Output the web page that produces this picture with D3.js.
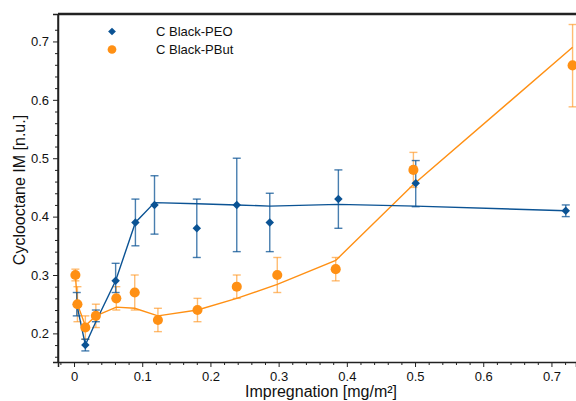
<!DOCTYPE html>
<html>
<head>
<meta charset="utf-8">
<script src="https://cdn.jsdelivr.net/npm/d3@7"></script>
<style>
  html, body { margin: 0; padding: 0; background: #fff; }
  svg { display: block; font-family: "Liberation Sans", Arial, sans-serif; }
</style>
</head>
<body>
<svg id="chart" width="576" height="401"></svg>
<script>
// --- Data ---
const peoX   = [0.004, 0.0166, 0.032, 0.061, 0.090, 0.118, 0.180, 0.2386, 0.287, 0.3876, 0.501, 0.721];
const peoY   = [0.25, 0.18, 0.23, 0.29, 0.39, 0.42, 0.38, 0.42, 0.39, 0.43, 0.457, 0.41];
const peoLo  = [0.23, 0.17, 0.22, 0.27, 0.35, 0.37, 0.33, 0.34, 0.34, 0.38, 0.417, 0.40];
const peoHi  = [0.27, 0.19, 0.24, 0.32, 0.43, 0.47, 0.43, 0.50, 0.44, 0.48, 0.496, 0.42];
const peoFit = [0.25, 0.18, 0.22, 0.29, 0.39, 0.424, 0.422, 0.42, 0.418, 0.421, 0.418, 0.41];

const butX   = [0.002, 0.005, 0.0166, 0.032, 0.062, 0.089, 0.123, 0.181, 0.2386, 0.298, 0.3837, 0.4976, 0.731];
const butY   = [0.30, 0.25, 0.21, 0.23, 0.26, 0.27, 0.223, 0.24, 0.28, 0.30, 0.31, 0.48, 0.659];
const butLo  = [0.29, 0.22, 0.19, 0.21, 0.24, 0.24, 0.203, 0.22, 0.26, 0.27, 0.29, 0.45, 0.588];
const butHi  = [0.31, 0.28, 0.23, 0.25, 0.28, 0.30, 0.243, 0.26, 0.30, 0.33, 0.33, 0.51, 0.729];
const butFit = [0.30, 0.25, 0.213, 0.23, 0.245, 0.243, 0.23, 0.24, 0.26, 0.284, 0.325, 0.455, 0.69];

const xTicks = [0, 0.1, 0.2, 0.3, 0.4, 0.5, 0.6, 0.7];
const yTicks = [0.2, 0.3, 0.4, 0.5, 0.6, 0.7];
const seriesNames = ["C Black-PEO", "C Black-PBut"];

const BLUE = "#0b5394";
const ORANGE = "#ff9014";

// --- Layout ---
const svg = d3.select("#chart");
const M = { left: 58, top: 14, right: 576, bottom: 362 };

const x = d3.scaleLinear().domain([-0.0235, 0.736]).range([M.left, M.right]);
const y = d3.scaleLinear().domain([0.151, 0.747]).range([M.bottom, M.top]);

// --- Axes ---
const fmt = d3.format(".1f");
svg.append("g")
    .attr("transform", `translate(0,${M.bottom})`)
    .call(d3.axisBottom(x).tickValues(xTicks).tickSize(5).tickPadding(5)
        .tickFormat(d => d === 0 ? "0" : fmt(d)));
const xMinor = d3.range(-0.02, 0.74, 0.02).filter(v => Math.abs(v * 10 - Math.round(v * 10)) > 1e-6);
svg.append("g")
    .attr("transform", `translate(0,${M.bottom})`)
    .call(d3.axisBottom(x).tickValues(xMinor).tickSize(3).tickFormat(""))
    .call(g => g.select(".domain").remove());

svg.append("g")
    .attr("transform", `translate(${M.left},0)`)
    .call(d3.axisLeft(y).tickValues(yTicks).tickSize(5).tickPadding(4).tickFormat(fmt));
const yMinor = d3.range(0.16, 0.74, 0.02).filter(v => Math.abs(v * 10 - Math.round(v * 10)) > 1e-6);
svg.append("g")
    .attr("transform", `translate(${M.left},0)`)
    .call(d3.axisLeft(y).tickValues(yMinor).tickSize(3).tickFormat(""))
    .call(g => g.select(".domain").remove());

svg.selectAll(".domain").attr("stroke", "#222").attr("stroke-width", 1.5);
svg.selectAll(".tick line").attr("stroke", "#222");
svg.selectAll(".tick text").attr("font-size", 13).attr("fill", "#111");

// top and left frame
svg.append("line")
    .attr("x1", M.left).attr("x2", M.right)
    .attr("y1", M.top).attr("y2", M.top)
    .attr("stroke", "#222").attr("stroke-width", 2.5);
svg.append("line")
    .attr("x1", M.left).attr("x2", M.left)
    .attr("y1", M.top).attr("y2", M.bottom)
    .attr("stroke", "#222").attr("stroke-width", 1.5);

// titles
svg.append("text")
    .attr("x", 321).attr("y", 397)
    .attr("text-anchor", "middle").attr("font-size", 16).attr("fill", "#111")
    .text("Impregnation [mg/m²]");
svg.append("text")
    .attr("transform", "translate(25,190) rotate(-90)")
    .attr("text-anchor", "middle").attr("font-size", 16).attr("fill", "#111")
    .text("Cyclooctane IM [n.u.]");

// --- Series ---
const lines = svg.append("g");
const marks = svg.append("g");

function toPoints(xs, ys, lo, hi, fit) {
    return xs.map((v, i) => ({ x: v, y: ys[i], lo: lo[i], hi: hi[i], f: fit[i] }));
}

function drawBarsAndLine(pts, color, barOpacity) {
    const eb = lines.append("g").attr("stroke", color).attr("stroke-opacity", barOpacity).attr("stroke-width", 1.4);
    eb.selectAll(".v").data(pts).join("line")
        .attr("x1", d => x(d.x)).attr("x2", d => x(d.x))
        .attr("y1", d => y(d.lo)).attr("y2", d => y(d.hi));
    eb.selectAll(".c1").data(pts).join("line")
        .attr("x1", d => x(d.x) - 4).attr("x2", d => x(d.x) + 4)
        .attr("y1", d => y(d.hi)).attr("y2", d => y(d.hi));
    eb.selectAll(".c2").data(pts).join("line")
        .attr("x1", d => x(d.x) - 4).attr("x2", d => x(d.x) + 4)
        .attr("y1", d => y(d.lo)).attr("y2", d => y(d.lo));

    lines.append("path")
        .datum(pts)
        .attr("fill", "none").attr("stroke", color).attr("stroke-width", 1.4)
        .attr("d", d3.line().x(d => x(d.x)).y(d => y(d.f)));
}

function drawMarkers(pts, color, shape) {
    const sym = d3.symbol().type(shape === "diamond" ? d3.symbolSquare : d3.symbolCircle)
        .size(shape === "diamond" ? 36 : 80);
    marks.append("g").selectAll("path").data(pts).join("path")
        .attr("transform", d => `translate(${x(d.x)},${y(d.y)})` + (shape === "diamond" ? " rotate(45)" : ""))
        .attr("d", sym)
        .attr("fill", color);
}

const peo = toPoints(peoX, peoY, peoLo, peoHi, peoFit);
const but = toPoints(butX, butY, butLo, butHi, butFit);

drawBarsAndLine(but, ORANGE, 0.6);
drawBarsAndLine(peo, BLUE, 0.75);
drawMarkers(peo, BLUE, "diamond");
drawMarkers(but, ORANGE, "circle");

// --- Legend ---
const legend = svg.append("g");
const legendItems = [
    { name: seriesNames[0], color: BLUE, shape: "diamond", y: 31.5 },
    { name: seriesNames[1], color: ORANGE, shape: "circle", y: 49.5 }
];
legendItems.forEach(it => {
    const s = d3.symbol().type(it.shape === "diamond" ? d3.symbolSquare : d3.symbolCircle)
        .size(it.shape === "diamond" ? 30 : 60);
    legend.append("path")
        .attr("transform", `translate(112,${it.y})` + (it.shape === "diamond" ? " rotate(45)" : ""))
        .attr("d", s).attr("fill", it.color);
    legend.append("text")
        .attr("x", 156).attr("y", it.y + 4.5)
        .attr("font-size", 13).attr("fill", "#111")
        .text(it.name);
});
</script>
</body>
</html>
